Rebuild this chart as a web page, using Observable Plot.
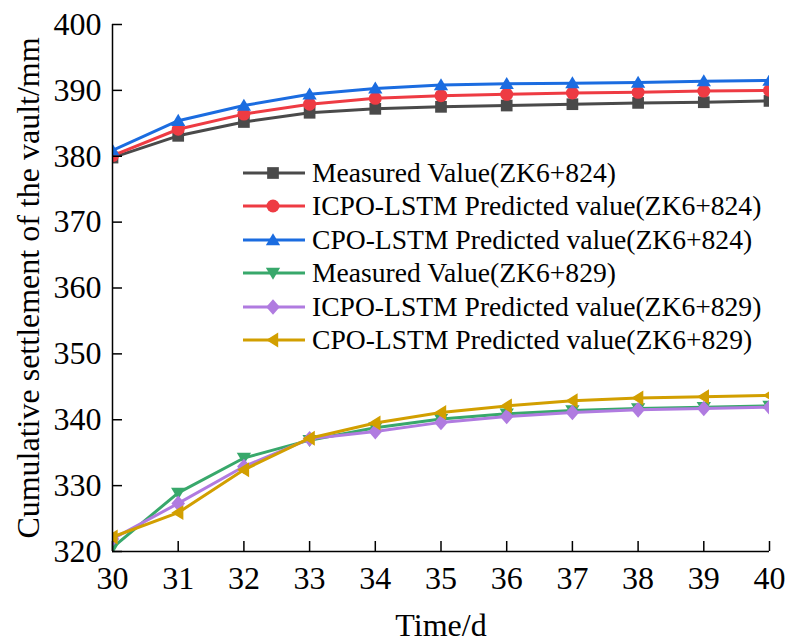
<!DOCTYPE html>
<html><head><meta charset="utf-8">
<script src="https://cdn.jsdelivr.net/npm/d3@7"></script>
<script src="https://cdn.jsdelivr.net/npm/@observablehq/plot@0.6"></script>
<style>
body{margin:0;background:#fff}
#wrap{position:relative;width:787px;height:643px;font-family:"Liberation Serif","Times New Roman",serif;color:#000}
#wrap svg, #wrap svg text{font-family:"Liberation Serif","Times New Roman",serif !important}
#legend{position:absolute;left:241px;top:156px}
.row{display:flex;align-items:center;height:33.5px;font-size:27.6px;white-space:nowrap}
.row svg{margin-right:5px}
</style>
</head><body><div id="wrap"></div>
<script>
const days = [30, 31, 32, 33, 34, 35, 36, 37, 38, 39, 40];
const yTicks = [320, 330, 340, 350, 360, 370, 380, 390, 400];
const measured824 = [379.8, 383.1, 385.2, 386.6, 387.2, 387.5, 387.7, 387.9, 388.1, 388.2, 388.4];
const icpo824 =     [380.1, 384.1, 386.4, 387.9, 388.8, 389.2, 389.4, 389.6, 389.7, 389.9, 390.0];
const cpo824 =      [380.9, 385.4, 387.7, 389.4, 390.3, 390.8, 391.0, 391.1, 391.2, 391.4, 391.5];
const measured829 = [320.6, 328.9, 334.2, 336.9, 338.8, 340.1, 340.9, 341.4, 341.7, 341.9, 342.1];
const icpo829 =     [321.9, 327.3, 332.9, 337.1, 338.2, 339.6, 340.5, 341.1, 341.5, 341.7, 341.9];
const cpo829 =      [322.2, 325.9, 332.4, 337.2, 339.5, 341.1, 342.1, 342.9, 343.3, 343.5, 343.7];

const labels = [
  "Measured Value(ZK6+824)",
  "ICPO-LSTM Predicted value(ZK6+824)",
  "CPO-LSTM Predicted value(ZK6+824)",
  "Measured Value(ZK6+829)",
  "ICPO-LSTM Predicted value(ZK6+829)",
  "CPO-LSTM Predicted value(ZK6+829)"
];
const colors = ["#4a4a4a", "#ee3b43", "#1b6ce0", "#38a86b", "#b07be0", "#d29f00"];
const seriesValues = [measured824, icpo824, cpo824, measured829, icpo829, cpo829];

// custom marker shapes; size = PI*r^2
const rad = (size) => Math.sqrt(size / Math.PI);
const sqMark = {draw(c, s) { const r = rad(s) * 0.9; c.rect(-r, -r, 2 * r, 2 * r); }};
const circMark = {draw(c, s) { const r = rad(s); c.moveTo(r, 0); c.arc(0, 0, r, 0, 2 * Math.PI); }};
const triUp = {draw(c, s) { const r = rad(s); c.moveTo(0, -r * 1.05); c.lineTo(r * 1.1, r * 0.8); c.lineTo(-r * 1.1, r * 0.8); c.closePath(); }};
const triDown = {draw(c, s) { const r = rad(s); c.moveTo(0, r * 1.05); c.lineTo(r * 1.1, -r * 0.8); c.lineTo(-r * 1.1, -r * 0.8); c.closePath(); }};
const diamondMark = {draw(c, s) { const r = rad(s); c.moveTo(0, -r * 1.2); c.lineTo(r * 1.05, 0); c.lineTo(0, r * 1.2); c.lineTo(-r * 1.05, 0); c.closePath(); }};
const triLeft = {draw(c, s) { const r = rad(s); c.moveTo(-r * 1.05, 0); c.lineTo(r * 0.8, -r * 1.15); c.lineTo(r * 0.8, r * 1.15); c.closePath(); }};
const symbols = [sqMark, circMark, triUp, triDown, diamondMark, triLeft];
const markR = 6.5;

const marks = [];
seriesValues.forEach((vals, i) => {
  const rows = days.map((d, j) => ({day: d, value: vals[j]}));
  marks.push(Plot.line(rows, {x: "day", y: "value", stroke: colors[i], strokeWidth: 3, clip: true}));
  marks.push(Plot.dot(rows, {x: "day", y: "value", symbol: () => symbols[i], fill: colors[i], stroke: "none", r: markR, clip: true}));
});

const plot = Plot.plot({
  width: 787, height: 643,
  marginLeft: 112, marginRight: 18, marginTop: 24, marginBottom: 92,
  style: {fontFamily: "Liberation Serif, serif", fontSize: "32px", color: "#000", background: "#fff"},
  x: {domain: [30, 40]},
  y: {domain: [320, 400]},
  symbol: {type: "identity"},
  marks: [
    ...marks,
    Plot.axisX(days, {tickSize: -10, tickPadding: 25, strokeWidth: 1.5, fontSize: 32, label: null}),
    Plot.axisY(yTicks, {tickSize: -10, tickPadding: 21, strokeWidth: 1.5, fontSize: 32, label: null}),
    Plot.ruleX([30], {strokeWidth: 1.5}),
    Plot.ruleY([320], {strokeWidth: 1.5}),
    Plot.text(["Time/d"], {frameAnchor: "bottom", dy: 84, fontSize: 32, lineAnchor: "bottom", textAnchor: "middle"}),
    Plot.text(["Cumulative settlement of the vault/mm"], {frameAnchor: "left", dx: -74, rotate: -90, fontSize: 32, lineAnchor: "bottom", textAnchor: "middle"})
  ]
});
const wrap = document.getElementById("wrap");
wrap.appendChild(plot);

const legend = document.createElement("div");
legend.id = "legend";
labels.forEach((lab, i) => {
  const row = document.createElement("div");
  row.className = "row";
  const p = d3.path();
  symbols[i].draw(p, Math.PI * markR * markR);
  row.innerHTML = `<svg width="66" height="20" viewBox="0 0 66 20"><line x1="2" x2="64" y1="10" y2="10" stroke="${colors[i]}" stroke-width="3"/><path transform="translate(32,10)" d="${p.toString()}" fill="${colors[i]}"/></svg><span>${lab}</span>`;
  legend.appendChild(row);
});
wrap.appendChild(legend);
</script>
</body></html>
